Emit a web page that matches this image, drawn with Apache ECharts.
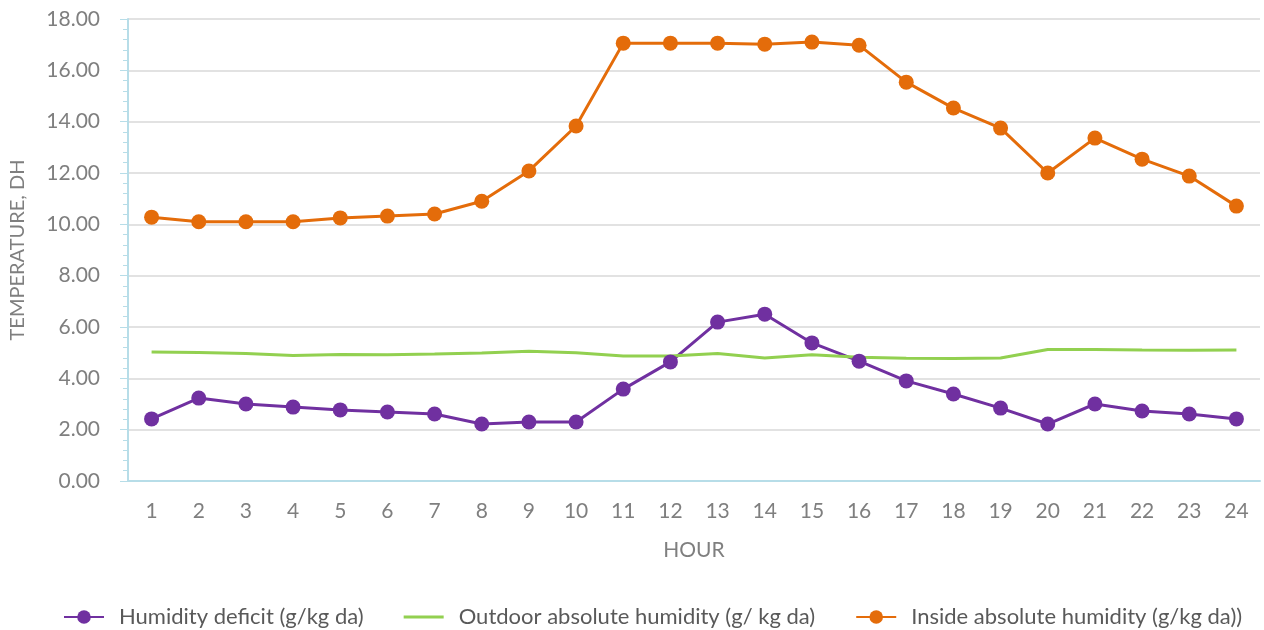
<!DOCTYPE html>
<html>
<head>
<meta charset="utf-8">
<script src="https://cdn.jsdelivr.net/npm/echarts@6/dist/echarts.min.js"></script>
<style>
  html, body { margin: 0; padding: 0; background: #fff; }
  #chart { width: 1264px; height: 630px; }
</style>
</head>
<body>
<div id="chart"></div>
<script>
var hours = ['1','2','3','4','5','6','7','8','9','10','11','12','13','14','15','16','17','18','19','20','21','22','23','24'];
var deficit = [2.42, 3.23, 3.00, 2.88, 2.77, 2.69, 2.61, 2.22, 2.30, 2.30, 3.58, 4.64, 6.19, 6.50, 5.38, 4.67, 3.90, 3.39, 2.84, 2.22, 3.00, 2.73, 2.61, 2.42];
var outdoor = [5.03, 5.01, 4.97, 4.89, 4.93, 4.92, 4.95, 4.99, 5.06, 5.00, 4.87, 4.87, 4.97, 4.79, 4.92, 4.82, 4.78, 4.77, 4.79, 5.12, 5.12, 5.10, 5.09, 5.10];
var inside = [10.28, 10.10, 10.10, 10.10, 10.25, 10.32, 10.40, 10.90, 12.08, 13.83, 17.06, 17.06, 17.06, 17.02, 17.10, 16.98, 15.54, 14.53, 13.75, 12.00, 13.36, 12.54, 11.88, 10.71];

var font = 'Lato';
var gray = '#7f7f7f';
var axisBlue = '#b7dde8';

var chart = echarts.init(document.getElementById('chart'), null, { renderer: 'canvas' });
chart.setOption({
  animation: false,
  textStyle: { fontFamily: font },
  grid: { left: 128, right: 4, top: 19, bottom: 149, outerBoundsMode: 'none' },
  legend: {
    top: 601,
    left: 58,
    itemWidth: 40,
    itemHeight: 17,
    itemGap: 40,
    textStyle: { color: '#595959', fontSize: 22, fontFamily: font, padding: [0, 0, 0, 10] },
    data: [
      'Humidity deficit (g/kg da)',
      { name: 'Outdoor absolute humidity (g/ kg da)', icon: 'path://M0,0 L0,0 M0,7 L40,7 L40,10 L0,10 Z M40,17 L40,17' },
      'Inside absolute humidity (g/kg da))'
    ]
  },
  xAxis: {
    type: 'category',
    data: hours,
    boundaryGap: true,
    name: 'HOUR',
    nameLocation: 'middle',
    nameGap: 59,
    nameTextStyle: { color: gray, fontSize: 21 },
    axisLine: { lineStyle: { color: axisBlue, width: 2 } },
    axisTick: { alignWithLabel: true, length: 5, lineStyle: { color: axisBlue } },
    axisLabel: { color: gray, fontSize: 21, margin: 20 },
    splitLine: { show: false }
  },
  yAxis: {
    type: 'value',
    min: 0,
    max: 18,
    interval: 2,
    name: 'TEMPERATURE, DH',
    nameLocation: 'middle',
    nameGap: 100,
    nameTextStyle: { color: gray, fontSize: 20 },
    axisLine: { show: true, lineStyle: { color: axisBlue, width: 2 } },
    axisTick: { show: true, length: 8, lineStyle: { color: axisBlue } },
    minorTick: { show: true, splitNumber: 5, length: 5, lineStyle: { color: axisBlue } },
    axisLabel: {
      color: gray,
      fontSize: 21,
      margin: 28,
      formatter: function(v) { return v.toFixed(2); }
    },
    splitLine: { lineStyle: { color: '#d9d9d9', width: 1.5 } }
  },
  series: [
    {
      name: 'Humidity deficit (g/kg da)',
      type: 'line',
      data: deficit,
      symbol: 'circle',
      symbolSize: 15,
      lineStyle: { color: '#7030a0', width: 3 },
      itemStyle: { color: '#7030a0' }
    },
    {
      name: 'Outdoor absolute humidity (g/ kg da)',
      type: 'line',
      data: outdoor,
      symbol: 'none',
      lineStyle: { color: '#92d050', width: 3 },
      itemStyle: { color: '#92d050' }
    },
    {
      name: 'Inside absolute humidity (g/kg da))',
      type: 'line',
      data: inside,
      symbol: 'circle',
      symbolSize: 15,
      lineStyle: { color: '#e46c0a', width: 3 },
      itemStyle: { color: '#e46c0a' }
    }
  ]
});
window.addEventListener('resize', function() { chart.resize(); });
</script>
</body>
</html>
